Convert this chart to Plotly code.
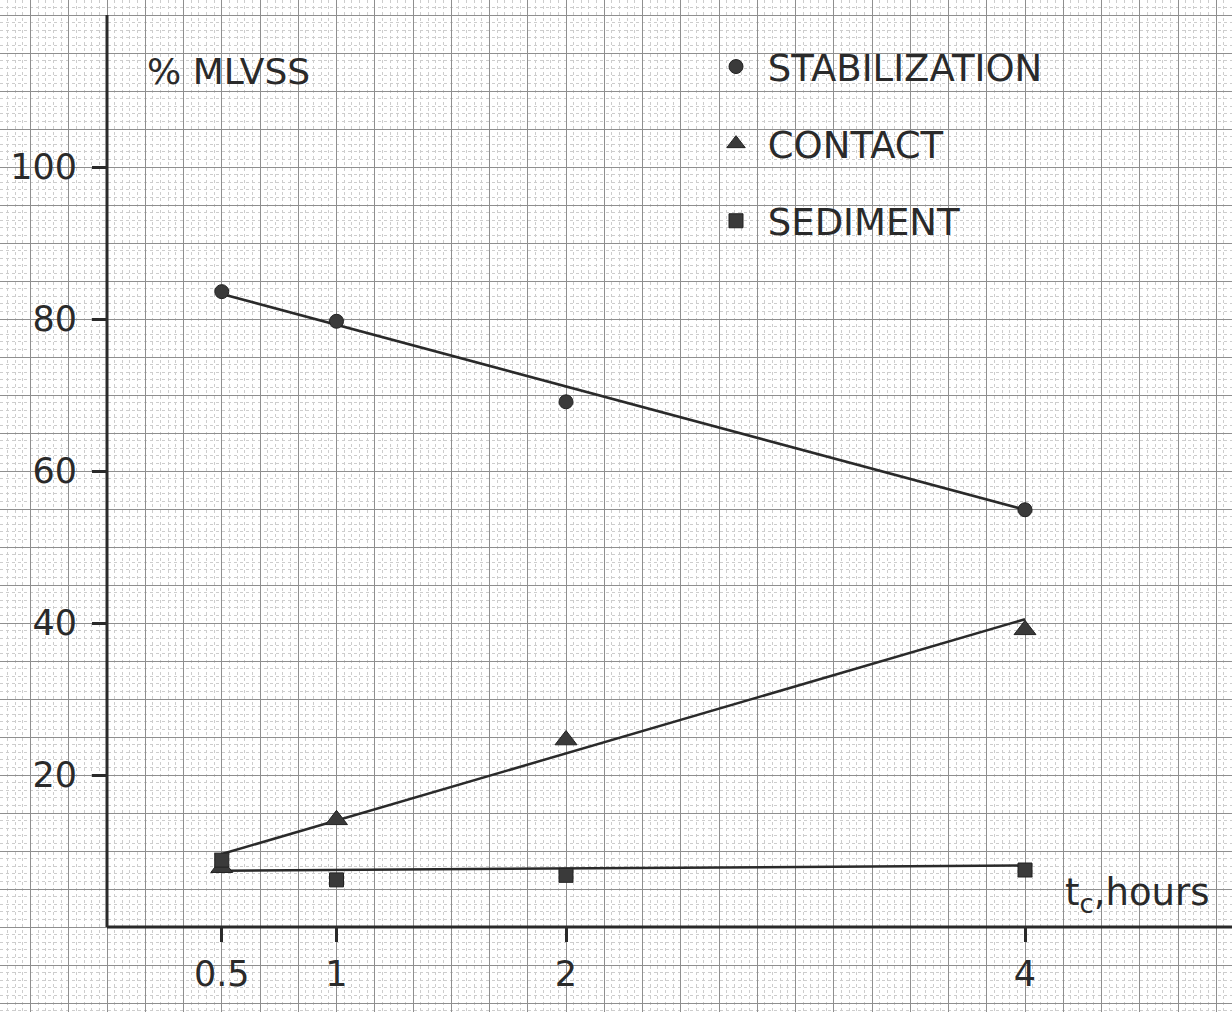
import plotly.graph_objects as go

# ---- data ----
hours = [0.5, 1, 2, 4]
hour_labels = ["0.5", "1", "2", "4"]
stabilization = [83.6, 79.7, 69.1, 54.9]
contact = [7.8, 14.1, 24.6, 39.1]
sediment = [8.8, 6.2, 6.8, 7.5]

fit_hours = [0.5, 4]
stabilization_fit = [83.3, 54.9]
contact_fit = [9.6, 40.5]
sediment_fit = [7.4, 8.1]

pct_ticks = [20, 40, 60, 80, 100]
pct_labels = ["20", "40", "60", "80", "100"]

# ---- layout constants ----
W, H = 1232, 1012
X0_PX, X_SCALE = 107, 229.5      # pixel of x=0, pixels per hour
Y0_PX, Y_SCALE = 927, 7.6        # pixel of y=0, pixels per percent
xr = [-X0_PX / X_SCALE, (W - X0_PX) / X_SCALE]
yr = [-(H - Y0_PX) / Y_SCALE, Y0_PX / Y_SCALE]

INK = "#2a2a2a"
MARK = "#3a3a3a"
FONT = "DejaVu Sans, Liberation Sans, sans-serif"

fig = go.Figure()

# fitted lines
for ys in (stabilization_fit, contact_fit, sediment_fit):
    fig.add_trace(go.Scatter(x=fit_hours, y=ys, mode="lines",
                             line=dict(color=INK, width=2.5),
                             showlegend=False, hoverinfo="skip"))

# measured points
series = [
    ("\u00a0STABILIZATION", stabilization, "circle", 14),
    ("\u00a0CONTACT", contact, "triangle-up", 19),
    ("\u00a0SEDIMENT", sediment, "square", 14),
]
for i, (name, ys, sym, sz) in enumerate(series):
    fig.add_trace(go.Scatter(x=hours, y=ys, mode="markers", name=name,
                             legendgroup=f"g{i}",
                             marker=dict(symbol=sym, size=sz, color=MARK,
                                         line=dict(color="#222", width=1)),
                             xaxis="x2", yaxis="y2"))

grid_major = "#8f8f8f"
grid_minor = "#cdcdcd"

fig.update_layout(
    width=W, height=H, autosize=False,
    margin=dict(l=0, r=0, t=0, b=0),
    paper_bgcolor="white", plot_bgcolor="white",
    font=dict(family=FONT, color=INK, size=37),
    xaxis=dict(range=xr, domain=[0, 1], tick0=0, dtick=1/6,
               showgrid=True, gridcolor=grid_major, gridwidth=1,
               showticklabels=False, ticks="", zeroline=False, showline=False,
               minor=dict(tick0=0, dtick=1/30, showgrid=True,
                          gridcolor=grid_minor, gridwidth=1, griddash="dot"),
               fixedrange=True),
    yaxis=dict(range=yr, domain=[0, 1], tick0=0, dtick=5,
               showgrid=True, gridcolor=grid_major, gridwidth=1,
               showticklabels=False, ticks="", zeroline=False, showline=False,
               minor=dict(tick0=0, dtick=1, showgrid=True,
                          gridcolor=grid_minor, gridwidth=1, griddash="dot"),
               fixedrange=True),
    xaxis2=dict(range=xr, overlaying="x", anchor="free",
                position=(H - Y0_PX) / H, side="bottom",
                tickmode="array", tickvals=hours, ticktext=hour_labels,
                ticks="outside", ticklen=14, tickwidth=2.5, tickcolor=INK,
                tickfont=dict(size=35, color=INK, family=FONT),
                ticklabelstandoff=2,
                showgrid=False, zeroline=False, showline=False, fixedrange=True),
    yaxis2=dict(range=yr, overlaying="y", anchor="free",
                position=X0_PX / W, side="left",
                tickmode="array", tickvals=pct_ticks, ticktext=pct_labels,
                ticks="outside", ticklen=15, tickwidth=2.5, tickcolor=INK,
                tickfont=dict(size=35, color=INK, family=FONT),
                ticklabelstandoff=8,
                showgrid=False, zeroline=False, showline=False, fixedrange=True),
    legend=dict(x=716 / W, y=1 - 36 / H, xanchor="left", yanchor="top",
                bgcolor="rgba(0,0,0,0)", borderwidth=0,
                font=dict(size=37, color=INK, family=FONT),
                traceorder="grouped", tracegroupgap=26,
                itemsizing="trace"),
    showlegend=True,
)

# axis lines (in data coordinates)
fig.add_shape(type="line", xref="x", yref="y", x0=0, y0=0, x1=0, y1=120,
              line=dict(color=INK, width=3))
fig.add_shape(type="line", xref="x", yref="y", x0=0, y0=0, x1=xr[1], y1=0,
              line=dict(color=INK, width=3))

# axis titles
fig.add_annotation(x=(145 - X0_PX) / X_SCALE, y=(Y0_PX - 71) / Y_SCALE,
                   xref="x", yref="y", xanchor="left", yanchor="middle",
                   text="% MLVSS", showarrow=False,
                   font=dict(size=36, color=INK, family=FONT))
fig.add_annotation(x=(1063 - X0_PX) / X_SCALE, y=(Y0_PX - 895) / Y_SCALE,
                   xref="x", yref="y", xanchor="left", yanchor="middle",
                   text="t<sub>c</sub>,hours", showarrow=False,
                   font=dict(size=37, color=INK, family=FONT))

fig.write_html("out.html")
